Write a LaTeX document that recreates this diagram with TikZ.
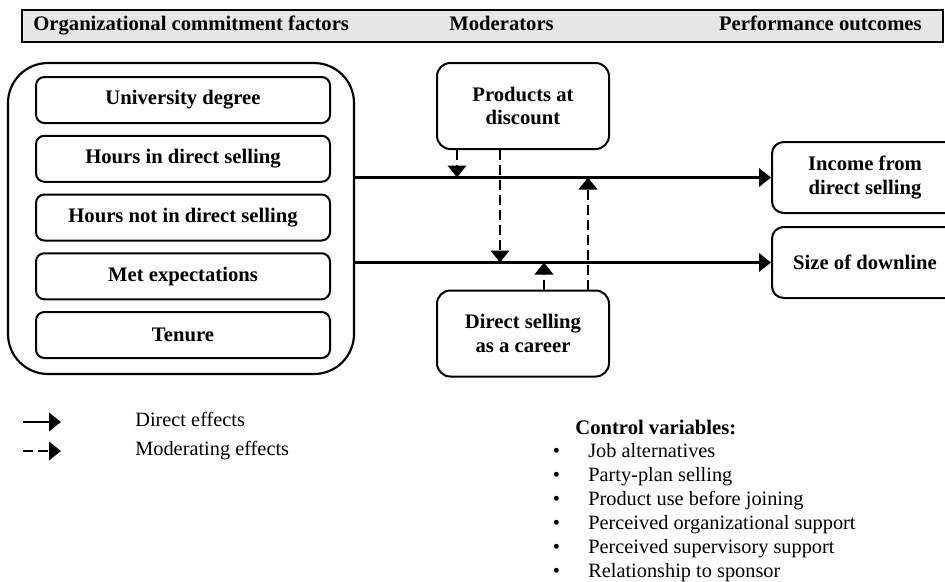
\documentclass[tikz,border=0pt]{standalone}
\usepackage{fontspec}
\setmainfont{Liberation Serif}
\usepackage{tikz}
\usetikzlibrary{arrows.meta,positioning}
\definecolor{hdrgray}{HTML}{E6E6E6}

\begin{document}
\begin{tikzpicture}[x=0.6pt,y=-0.6pt,>={Triangle[length=7.2pt,width=11pt]},
                    txt/.style={font=\fontsize{12.2}{14.4}\selectfont},
                    bold/.style={font=\bfseries\fontsize{12.4}{14.2}\selectfont},
                    factor/.style={draw,bold,rounded corners=5pt,line width=1.2pt,
                      minimum width=176.4pt,minimum height=27.6pt,inner sep=0pt,outer sep=0pt},
                    modbox/.style={draw,bold,align=center,rounded corners=8pt,line width=1.2pt,
                      minimum width=103.2pt,minimum height=51.6pt},
                    outbox/.style={draw,bold,align=center,rounded corners=7pt,line width=1.2pt,
                      minimum width=111.6pt,minimum height=42.6pt},
                    direct/.style={->,line width=1.6pt},
                    moder/.style={->,line width=1.6pt,dash pattern=on 6pt off 3pt}]
  \useasboundingbox (0,0) rectangle (945,582);

  % header bar
  \draw[fill=hdrgray,line width=1.5pt] (22,10) rectangle (943,42);
  \node[bold,anchor=base west,inner sep=0pt] (hOrg) at (33,30) {Organizational commitment factors};
  \node[bold,anchor=base west,inner sep=0pt] (hMod) at (449,30) {Moderators};
  \node[bold,anchor=base east,inner sep=0pt] (hPerf) at (922,30) {Performance outcomes};

  % commitment factors
  \node[draw,rounded corners=24pt,line width=1.3pt,minimum width=207.6pt,
        minimum height=186.6pt] (factors) at (181,218.5) {};
  \node[factor] (uni) at (183,100) {University degree};
  \node[factor, below=7.65pt of uni] (hin) {Hours in direct selling};
  \node[factor, below=7.65pt of hin] (hnot) {Hours not in direct selling};
  \node[factor, below=7.65pt of hnot] (met) {Met expectations};
  \node[factor, below=7.65pt of met] (ten) {Tenure};

  % moderators and outcomes
  \node[modbox] (disc) at (523,106) {Products at\\discount};
  \node[modbox] (career) at (523,333.5) {Direct selling\\as a career};
  \node[outbox] (income) at (865,177.5) {Income from\\direct selling};
  \node[outbox] (down) at (865,262.5) {Size of downline};

  \draw[direct] (factors.east |- income.west) -- (income.west);
  \draw[direct] (factors.east |- down.west) -- (down.west);

  \coordinate (m1) at (457,0);
  \coordinate (m2) at (500,0);
  \coordinate (m3) at (544,0);
  \coordinate (m4) at (588,0);
  \draw[moder] (disc.south -| m1) -- (m1 |- income.west);
  \draw[moder] (disc.south -| m2) -- (m2 |- down.west);
  \draw[moder] (career.north -| m3) -- (m3 |- down.west);
  \draw[moder] (career.north -| m4) -- (m4 |- income.west);

  % legend
  \coordinate (l1a) at (23,422);
  \coordinate (l1b) at (61,422);
  \coordinate (l2a) at (23,451);
  \coordinate (l2b) at (61,451);
  \draw[direct] (l1a) -- (l1b);
  \draw[moder] (l2a) -- (l2b);
  \node[txt,anchor=base west,inner sep=0pt] (lDir) at (135,426) {Direct effects};
  \node[txt,anchor=base west,inner sep=0pt] (lMod) at (135,455) {Moderating effects};

  % control variables
  \node[bold,anchor=base west,inner sep=0pt] (ctrl) at (575,434) {Control variables:};
  \node[txt,anchor=base west,inner sep=0pt] (ctrllist) at (552.5,457)
    {\begin{tabular}[t]{@{}l@{}}
      \makebox[21.3pt][l]{\textbullet}Job alternatives\\
      \makebox[21.3pt][l]{\textbullet}Party-plan selling\\
      \makebox[21.3pt][l]{\textbullet}Product use before joining\\
      \makebox[21.3pt][l]{\textbullet}Perceived organizational support\\
      \makebox[21.3pt][l]{\textbullet}Perceived supervisory support\\
      \makebox[21.3pt][l]{\textbullet}Relationship to sponsor
    \end{tabular}};
\end{tikzpicture}
\end{document}
